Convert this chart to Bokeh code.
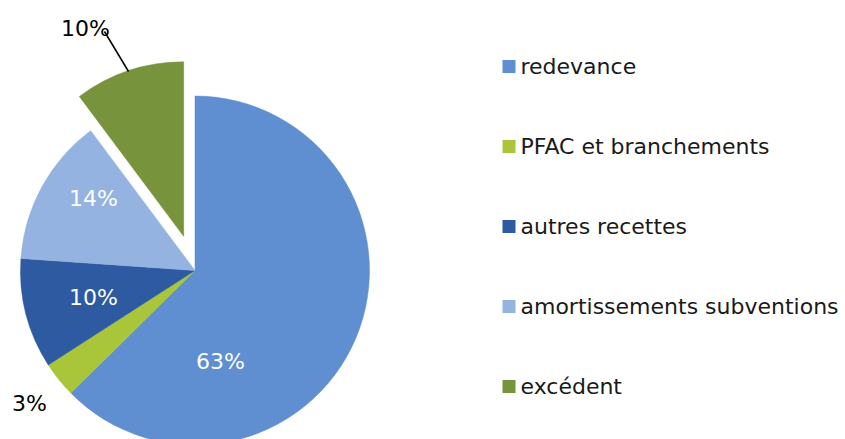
import math
from bokeh.plotting import figure
from bokeh.models import Range1d, ColumnDataSource
from bokeh.core.properties import value
from bokeh.embed import file_html
from bokeh.resources import INLINE

# ---- data ----
categories = ["redevance", "PFAC et branchements", "autres recettes",
              "amortissements subventions", "excédent"]
shares = [62.6, 3.3, 10.2, 13.7, 10.2]
colors = ["#5F8ED1", "#A9C63A", "#2D5AA0", "#94B3E1", "#77933C"]
exploded = [0, 0, 0, 0, 1]

# ---- layout (screenshot pixel coords) ----
W, H = 845, 439
CX, CY, R = 194.5, 270.0, 174.5
EXPLODE = 36.0
FONT = "DejaVu Sans"
label_pos = [(220, 361), (29, 403), (93, 297), (93, 198), (85, 28)]
label_col = ["white", "black", "white", "white", "black"]
leader = [(104, 31), (128, 71)]
legend_y0, legend_dy = 66, 80
legend_sq_x, legend_txt_x = 508.5, 520


def dy(py):
    return H - py


p = figure(width=W, height=H, output_backend="svg", toolbar_location=None,
           x_range=Range1d(0, W), y_range=Range1d(0, H),
           min_border=0)
p.axis.visible = False
p.grid.visible = False
p.outline_line_color = None
p.background_fill_color = "white"

total = sum(shares)
xs, ys, starts, ends = [], [], [], []
cum = 0.0
for s, e in zip(shares, exploded):
    a0 = math.radians(90 - cum / total * 360)
    a1 = math.radians(90 - (cum + s) / total * 360)
    mid = (a0 + a1) / 2
    off = EXPLODE if e else 0.0
    xs.append(CX + off * math.cos(mid))
    ys.append(dy(CY) + off * math.sin(mid))
    starts.append(a1)
    ends.append(a0)
    cum += s

src = ColumnDataSource(dict(x=xs, y=ys, start=starts, end=ends, color=colors))
p.wedge(x="x", y="y", radius=R, start_angle="start", end_angle="end",
        direction="anticlock", fill_color="color", line_color="color",
        line_width=0.5, source=src)

labels = [f"{round(s / total * 100)}%" for s in shares]
lsrc = ColumnDataSource(dict(x=[q[0] for q in label_pos],
                             y=[dy(q[1]) for q in label_pos],
                             t=labels, c=label_col))
p.text(x="x", y="y", text="t", text_color="c", source=lsrc,
       text_align="center", text_baseline="middle",
       text_font=value(FONT), text_font_size="22px")

p.line(x=[leader[0][0], leader[1][0]], y=[dy(leader[0][1]), dy(leader[1][1])],
       line_color="black", line_width=1.5)

leg_y = [dy(legend_y0 + i * legend_dy) for i in range(len(categories))]
p.scatter(x=[legend_sq_x] * len(categories), y=leg_y, marker="square",
          size=13, fill_color=colors, line_color=None)
p.text(x=[legend_txt_x] * len(categories), y=leg_y, text=categories,
       text_align="left", text_baseline="middle", text_color="#1a1a1a",
       text_font=value(FONT), text_font_size="22px")

open("out.html", "w").write(file_html(p, INLINE))
